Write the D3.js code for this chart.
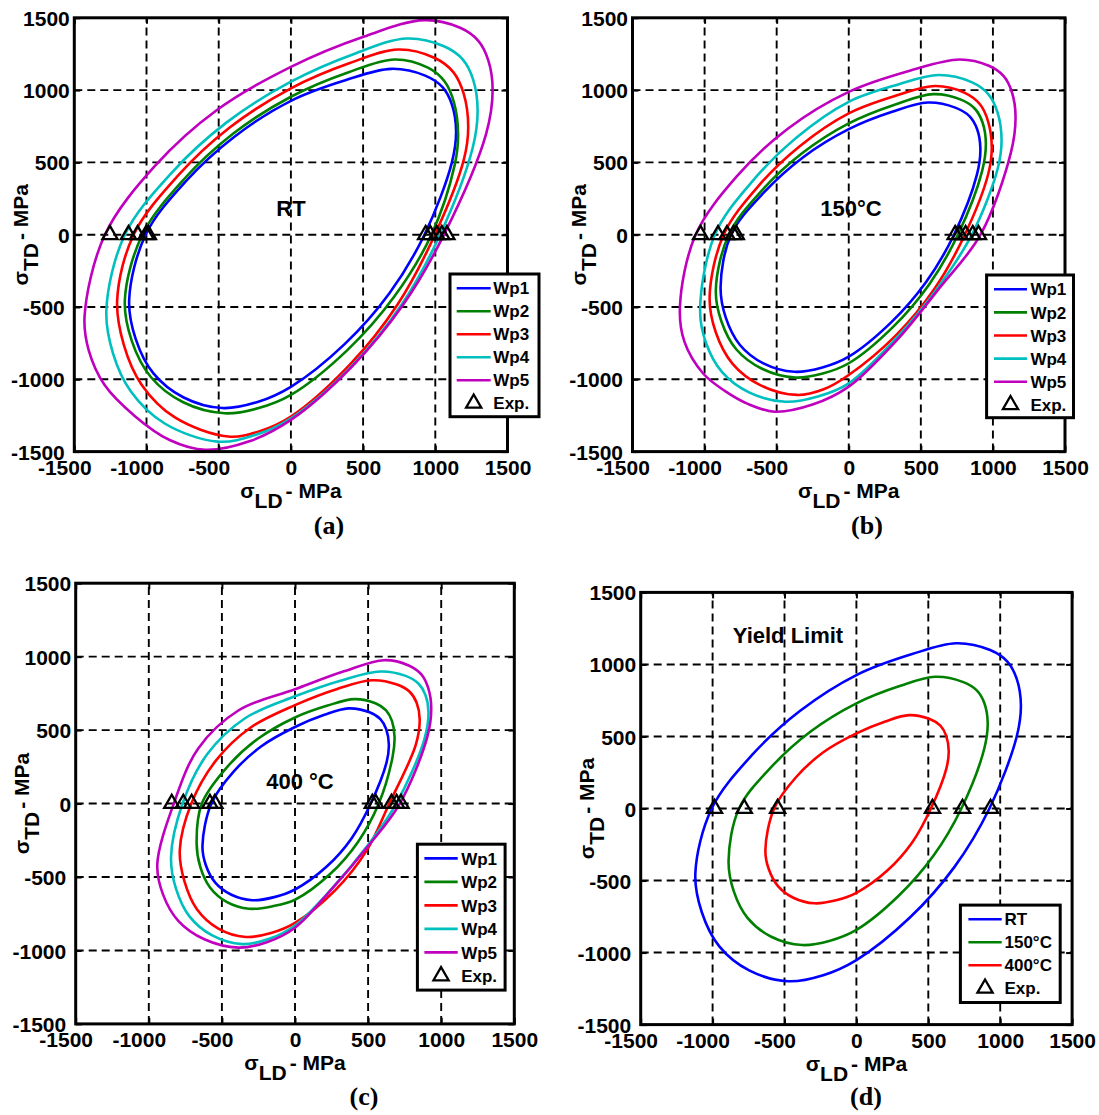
<!DOCTYPE html>
<html>
<head>
<meta charset="utf-8">
<script src="https://cdn.jsdelivr.net/npm/d3@7"></script>
<style>
  html, body { margin: 0; padding: 0; background: #fff; }
  svg { display: block; }
</style>
</head>
<body>
<svg id="fig" width="1099" height="1115"></svg>
<script>
// ---- data -------------------------------------------------------------

// axis ticks (MPa), shared by both axes of every panel
const axisTicks = [-1500, -1000, -500, 0, 500, 1000, 1500];
const gridTicks = [-1000, -500, 0, 500, 1000];

const seriesNames = ["Wp1", "Wp2", "Wp3", "Wp4", "Wp5"];
const tempNames = ["RT", "150°C", "400°C"];

// yield loci, points [σLD, σTD] in MPa going round each closed curve
const rtWp1 = [[694,1147],[382,1070],[0,926],[-391,678],[-727,370],[-1006,0],[-1120,-450],[-1075,-720],[-952,-959],[-746,-1124],[-475,-1199],[-231,-1157],[0,-1052],[372,-757],[681,-407],[925,0],[1115,500],[1144,717],[1115,900],[1050,1020],[930,1100]];
const rtWp2 = [[718,1212],[395,1122],[0,954],[-401,698],[-744,380],[-1029,0],[-1150,-452],[-1102,-734],[-970,-984],[-749,-1157],[-459,-1235],[-223,-1199],[0,-1108],[391,-798],[716,-428],[973,0],[1134,481],[1158,690],[1130,912],[1066,1058],[949,1155]];
const rtWp3 = [[742,1281],[408,1187],[0,1012],[-424,741],[-787,403],[-1089,0],[-1203,-450],[-1157,-762],[-1034,-1037],[-803,-1264],[-434,-1396],[-211,-1357],[0,-1258],[408,-899],[741,-479],[997,0],[1198,521],[1228,747],[1197,974],[1126,1123],[997,1222]];
const rtWp4 = [[803,1357],[442,1252],[0,1058],[-447,775],[-831,423],[-1150,0],[-1278,-521],[-1232,-821],[-1108,-1085],[-877,-1304],[-507,-1431],[-246,-1385],[0,-1270],[421,-909],[766,-485],[1033,0],[1259,601],[1293,862],[1262,1073],[1191,1211],[1060,1303]];
const rtWp5 = [[924,1484],[508,1371],[0,1161],[-510,864],[-940,477],[-1288,0],[-1429,-567],[-1400,-800],[-1290,-1040],[-1080,-1255],[-840,-1420],[-592,-1488],[-288,-1429],[0,-1281],[423,-912],[777,-485],[1060,0],[1352,697],[1397,1000],[1367,1206],[1298,1341],[1172,1431]];

const t150Wp1 = [[548,914],[301,850],[0,730],[-316,536],[-588,292],[-816,0],[-889,-364],[-853,-574],[-756,-761],[-592,-890],[-377,-948],[-183,-918],[0,-843],[294,-606],[538,-325],[730,0],[889,415],[913,595],[890,731],[837,820],[739,879]];
const t150Wp2 = [[587,972],[323,901],[0,770],[-324,563],[-602,307],[-832,0],[-922,-382],[-883,-600],[-779,-794],[-602,-927],[-371,-988],[-180,-960],[0,-889],[306,-639],[559,-342],[757,0],[925,440],[951,631],[928,776],[875,871],[778,934]];
const t150Wp3 = [[599,1028],[329,962],[0,839],[-340,612],[-630,333],[-868,0],[-965,-429],[-923,-673],[-807,-891],[-614,-1040],[-359,-1108],[-174,-1069],[0,-970],[327,-696],[596,-372],[805,0],[967,418],[992,600],[967,782],[910,902],[805,981]];
const t150Wp4 = [[623,1104],[343,1039],[0,919],[-366,669],[-675,362],[-929,0],[-1031,-521],[-990,-749],[-877,-952],[-688,-1092],[-440,-1155],[-214,-1119],[0,-1028],[326,-719],[610,-377],[854,0],[1033,456],[1060,654],[1032,846],[969,971],[852,1055]];
const t150Wp5 = [[769,1212],[423,1134],[0,988],[-423,733],[-777,403],[-1062,0],[-1171,-498],[-1140,-740],[-1010,-960],[-860,-1080],[-700,-1170],[-517,-1224],[-251,-1175],[0,-1051],[335,-728],[630,-368],[914,0],[1125,569],[1157,816],[1132,985],[1076,1095],[972,1168]];

const t400Wp1 = [[365,648],[201,604],[0,521],[-230,390],[-420,217],[-572,0],[-633,-290],[-609,-422],[-544,-540],[-435,-621],[-292,-658],[-142,-637],[0,-585],[217,-429],[389,-234],[518,0],[626,279],[642,400],[624,506],[584,575],[510,621]];
const t400Wp2 = [[405,711],[223,667],[0,586],[-256,439],[-469,243],[-637,0],[-673,-270],[-648,-431],[-580,-573],[-465,-671],[-314,-716],[-153,-699],[0,-655],[240,-480],[431,-261],[573,0],[667,316],[681,453],[663,563],[623,635],[550,683]];
const t400Wp3 = [[525,839],[289,780],[0,670],[-303,518],[-540,294],[-709,0],[-788,-318],[-756,-530],[-671,-719],[-527,-849],[-338,-908],[-164,-881],[0,-812],[276,-589],[491,-319],[645,0],[826,399],[853,573],[832,686],[784,761],[697,810]];
const t400Wp4 = [[585,899],[322,840],[0,730],[-344,579],[-601,335],[-769,0],[-848,-366],[-814,-579],[-722,-768],[-566,-898],[-362,-957],[-176,-921],[0,-830],[256,-574],[487,-298],[693,0],[884,434],[913,622],[892,740],[844,817],[757,869]];
const t400Wp5 = [[609,976],[335,900],[0,778],[-385,635],[-662,375],[-829,0],[-942,-414],[-903,-618],[-797,-800],[-620,-924],[-386,-981],[-188,-942],[0,-845],[256,-577],[495,-296],[717,0],[904,450],[932,646],[911,787],[864,879],[778,940]];

// measured yield stresses on the σLD axis (σTD = 0): [compression, tension] per Wp
const rtExp   = [[-987,933],[-1003,965],[-1062,1010],[-1125,1045],[-1253,1080]];
const t150Exp = [[-780,738],[-800,770],[-845,810],[-907,860],[-1028,900]];
const t400Exp = [[-548,529],[-582,552],[-707,660],[-764,695],[-843,725]];

// ---- drawing ----------------------------------------------------------

const SANS = "'Liberation Sans', Arial, Helvetica, sans-serif";
const SERIF = "'Liberation Serif', 'Times New Roman', serif";
const lineColors = ["#0000ff", "#008000", "#ff0000", "#00bfbf", "#bf00bf"];

const panels = [
  { key: "a", box: { x0: 74.3, y0: 17.8, x1: 507.5, y1: 451.6 },
    loci: [rtWp1, rtWp2, rtWp3, rtWp4, rtWp5], names: seriesNames, exp: rtExp,
    note: { text: "RT", x: 291, y: 216 },
    legend: { x0: 450, y0: 274, x1: 539, y1: 416.7, row0: 288.3, step: 23, l0: 456.7, l1: 490.7, tx: 493.3 },
    tag: { text: "(a)", x: 329, y: 534 } },
  { key: "b", box: { x0: 632.5, y0: 17.8, x1: 1065, y1: 451.6 },
    loci: [t150Wp1, t150Wp2, t150Wp3, t150Wp4, t150Wp5], names: seriesNames, exp: t150Exp,
    note: { text: "150°C", x: 851, y: 216 },
    legend: { x0: 986.6, y0: 275, x1: 1073.5, y1: 417.7, row0: 289.3, step: 23.1, l0: 994, l1: 1027, tx: 1030.4 },
    tag: { text: "(b)", x: 867, y: 534 } },
  { key: "c", box: { x0: 75.7, y0: 583.2, x1: 514.3, y1: 1023.9 },
    loci: [t400Wp1, t400Wp2, t400Wp3, t400Wp4, t400Wp5], names: seriesNames, exp: t400Exp,
    note: { text: "400 °C", x: 300, y: 789 },
    legend: { x0: 417.4, y0: 844.2, x1: 505.1, y1: 990.1, row0: 858.4, step: 23.5, l0: 424.4, l1: 457.7, tx: 461.2 },
    tag: { text: "(c)", x: 364, y: 1105 } },
  { key: "d", box: { x0: 640.7, y0: 592.4, x1: 1072.1, y1: 1024.6 },
    loci: [rtWp1, t150Wp1, t400Wp1], names: tempNames, exp: [rtExp[0], t150Exp[0], t400Exp[0]],
    note: { text: "Yield Limit", x: 788, y: 643 },
    legend: { x0: 960.4, y0: 905.1, x1: 1060.2, y1: 1002.5, row0: 919.3, step: 23, l0: 968.4, l1: 1001.7, tx: 1004.5 },
    tag: { text: "(d)", x: 866, y: 1105 } }
];

const svg = d3.select("#fig");
const defs = svg.append("defs");
const triangle = d3.symbol().type(d3.symbolTriangle).size(100);

function axisTitle(parent, px, py, sub, rotated) {
  const t = parent.append("text")
    .attr("font-family", SANS).attr("font-weight", "bold").attr("font-size", 21)
    .attr("text-anchor", "middle").attr("fill", "#000")
    .attr("transform", `translate(${px},${py})` + (rotated ? " rotate(-90)" : ""));
  t.append("tspan").text("σ");
  t.append("tspan").attr("dy", 10).text(sub);
  t.append("tspan").attr("dy", -10).attr("dx", 3).text("- MPa");
}

panels.forEach(p => {
  const b = p.box;
  const x = d3.scaleLinear().domain([-1500, 1500]).range([b.x0, b.x1]);
  const y = d3.scaleLinear().domain([-1500, 1500]).range([b.y1, b.y0]);
  const g = svg.append("g").attr("class", "panel-" + p.key);

  defs.append("clipPath").attr("id", "clip-" + p.key).append("rect")
    .attr("x", b.x0).attr("y", b.y0).attr("width", b.x1 - b.x0).attr("height", b.y1 - b.y0);

  // dashed grid
  const grid = g.append("g").attr("stroke", "#000").attr("stroke-width", 1.9)
    .attr("stroke-dasharray", "8 5").attr("fill", "none");
  grid.selectAll("line.gv").data(gridTicks).join("line").attr("class", "gv")
    .attr("x1", d => x(d)).attr("x2", d => x(d)).attr("y1", b.y1).attr("y2", b.y0);
  grid.selectAll("line.gh").data(gridTicks).join("line").attr("class", "gh")
    .attr("x1", b.x0).attr("x2", b.x1).attr("y1", d => y(d)).attr("y2", d => y(d));

  // yield loci and measured points
  const locus = d3.line().x(d => x(d[0])).y(d => y(d[1]))
    .curve(d3.curveCatmullRomClosed.alpha(0.5));
  const plot = g.append("g").attr("clip-path", `url(#clip-${p.key})`);
  plot.selectAll("path.locus").data(p.loci).join("path").attr("class", "locus")
    .attr("d", locus).attr("fill", "none")
    .attr("stroke", (d, i) => lineColors[i]).attr("stroke-width", 2.6)
    .attr("stroke-linejoin", "round");
  const expPts = p.exp.flatMap(pair => pair.map(v => [v, 0]));
  plot.selectAll("path.exp").data(expPts).join("path").attr("class", "exp")
    .attr("d", triangle)
    .attr("transform", d => `translate(${x(d[0])},${y(d[1])})`)
    .attr("fill", "none").attr("stroke", "#000").attr("stroke-width", 2.3)
    .attr("stroke-linejoin", "miter");

  // axes: inward ticks on all four sides, labels bottom and left
  const fmt = d => String(d);
  const styleAxis = sel => {
    sel.select(".domain").remove();
    sel.selectAll(".tick line").attr("stroke", "#000").attr("stroke-width", 2);
    sel.attr("font-family", SANS).attr("font-weight", "bold").attr("font-size", 21);
    sel.selectAll(".tick text").attr("fill", "#000");
  };
  const axB = g.append("g").attr("transform", `translate(0,${b.y1})`)
    .call(d3.axisBottom(x).tickValues(axisTicks).tickSizeInner(-6).tickSizeOuter(0)
      .tickPadding(8.5).tickFormat(fmt));
  styleAxis(axB);
  axB.selectAll(".tick text").attr("dx", d => d < 0 ? -10 : 0);

  const axL = g.append("g").attr("transform", `translate(${b.x0},0)`)
    .call(d3.axisLeft(y).tickValues(axisTicks).tickSizeInner(-6).tickSizeOuter(0)
      .tickPadding(4.5).tickFormat(fmt));
  styleAxis(axL);
  axL.selectAll(".tick text").attr("dy", "0.36em").attr("dx", d => d < 0 ? -5 : 0);

  const axT = g.append("g").attr("transform", `translate(0,${b.y0})`)
    .call(d3.axisTop(x).tickValues(axisTicks).tickSizeInner(-6).tickSizeOuter(0).tickFormat(""));
  styleAxis(axT);
  axT.selectAll(".tick text").remove();
  const axR = g.append("g").attr("transform", `translate(${b.x1},0)`)
    .call(d3.axisRight(y).tickValues(axisTicks).tickSizeInner(-6).tickSizeOuter(0).tickFormat(""));
  styleAxis(axR);
  axR.selectAll(".tick text").remove();

  // frame
  g.append("rect").attr("x", b.x0).attr("y", b.y0)
    .attr("width", b.x1 - b.x0).attr("height", b.y1 - b.y0)
    .attr("fill", "none").attr("stroke", "#000").attr("stroke-width", 3);

  // axis titles
  axisTitle(g, (b.x0 + b.x1) / 2, b.y1 + 46.5, "LD", false);
  axisTitle(g, b.x0 - 46.5, (b.y0 + b.y1) / 2, "TD", true);

  // in-plot caption
  g.append("text").attr("x", p.note.x).attr("y", p.note.y)
    .attr("text-anchor", "middle").attr("font-family", SANS).attr("font-weight", "bold")
    .attr("font-size", 22).attr("fill", "#000").text(p.note.text);

  // legend
  const L = p.legend;
  const lg = g.append("g");
  lg.append("rect").attr("x", L.x0).attr("y", L.y0)
    .attr("width", L.x1 - L.x0).attr("height", L.y1 - L.y0)
    .attr("fill", "#fff").attr("stroke", "#000").attr("stroke-width", 3);
  const rows = p.names.map((n, i) => ({ name: n, color: lineColors[i], marker: false }))
    .concat([{ name: "Exp.", color: "#000", marker: true }]);
  rows.forEach((r, i) => {
    const ry = L.row0 + i * L.step;
    if (r.marker) {
      lg.append("path").attr("d", triangle)
        .attr("transform", `translate(${(L.l0 + L.l1) / 2},${ry})`)
        .attr("fill", "none").attr("stroke", "#000").attr("stroke-width", 2.3);
    } else {
      lg.append("line").attr("x1", L.l0).attr("x2", L.l1).attr("y1", ry).attr("y2", ry)
        .attr("stroke", r.color).attr("stroke-width", 2.6);
    }
    lg.append("text").attr("x", L.tx).attr("y", ry).attr("dy", "0.36em")
      .attr("font-family", SANS).attr("font-weight", "bold").attr("font-size", 17)
      .attr("fill", "#000").text(r.name);
  });

  // sub-figure tag
  svg.append("text").attr("x", p.tag.x).attr("y", p.tag.y)
    .attr("text-anchor", "middle").attr("font-family", SERIF).attr("font-weight", "bold")
    .attr("font-size", 26).attr("fill", "#000").text(p.tag.text);
});
</script>
</body>
</html>
